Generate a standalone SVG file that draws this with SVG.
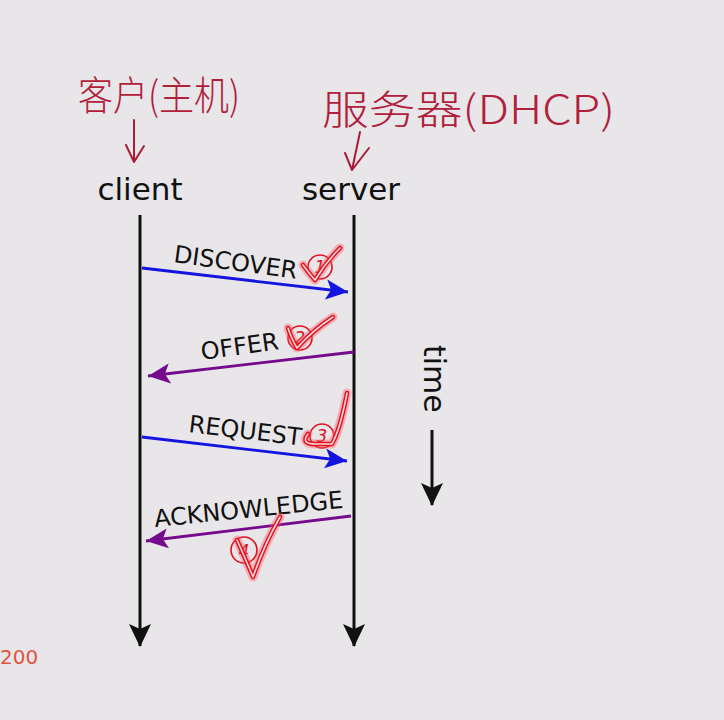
<svg xmlns="http://www.w3.org/2000/svg" width="724" height="720" viewBox="0 0 724 720">
<defs>
<style>
.lbl{font-family:"DejaVu Sans",sans-serif;fill:#111}
.big{font-size:31px}
.msg{font-size:24px}
.hand{font-family:"Noto Sans CJK SC","Liberation Sans",sans-serif;fill:#b0203a;font-size:40px;font-weight:300}
.hs{fill:none;stroke:#a81c36;stroke-width:2;stroke-linecap:round;stroke-linejoin:round}
.life{stroke:#111;stroke-width:3;fill:none}
.glow{fill:none;stroke:#ff5a6a;stroke-opacity:0.4;stroke-width:9;stroke-linecap:round;stroke-linejoin:round}
.chk{fill:none;stroke:#e0101c;stroke-width:4.5;stroke-linecap:round;stroke-linejoin:round}
.chki{fill:none;stroke:#ffd8dc;stroke-width:1.6;stroke-linecap:round;stroke-linejoin:round}
.circ{fill:none;stroke:#e0101c;stroke-width:1.6}
.num{font-family:"DejaVu Sans",sans-serif;font-size:17px;fill:#d8101c;font-style:italic;text-anchor:middle}
</style>
<marker id="hk" markerWidth="24" markerHeight="24" viewBox="0 0 24 24" refX="22" refY="12" orient="auto" markerUnits="userSpaceOnUse"><path d="M0,1 L23,12 L0,23 L5,12 Z" fill="#111"/></marker>
<marker id="hb" markerWidth="24" markerHeight="24" viewBox="0 0 24 24" refX="22" refY="12" orient="auto" markerUnits="userSpaceOnUse"><path d="M0,2 L22,12 L0,22 L5,12 Z" fill="#1414e0"/></marker>
<marker id="hp" markerWidth="24" markerHeight="24" viewBox="0 0 24 24" refX="22" refY="12" orient="auto" markerUnits="userSpaceOnUse"><path d="M0,2 L22,12 L0,22 L5,12 Z" fill="#760a8c"/></marker>
</defs>
<rect width="724" height="720" fill="#e8e6e9"/>

<g id="client">
<text class="lbl big" x="140" y="200" text-anchor="middle">client</text>
</g>
<g id="server">
<text class="lbl big" x="351" y="200" text-anchor="middle">server</text>
</g>

<g id="connectors">
<line class="life" x1="140" y1="215" x2="140" y2="646" marker-end="url(#hk)"/>
<line class="life" x1="354" y1="215" x2="354" y2="646" marker-end="url(#hk)"/>
<line x1="142" y1="268" x2="348" y2="292" stroke="#1414e0" stroke-width="2.8" marker-end="url(#hb)"/>
<line x1="354" y1="352" x2="148" y2="376" stroke="#760a8c" stroke-width="2.8" marker-end="url(#hp)"/>
<line x1="142" y1="437" x2="347" y2="461" stroke="#1414e0" stroke-width="2.8" marker-end="url(#hb)"/>
<line x1="351" y1="516" x2="146" y2="541" stroke="#760a8c" stroke-width="2.8" marker-end="url(#hp)"/>
<line class="life" x1="432" y1="430" x2="432" y2="505" marker-end="url(#hk)"/>
</g>

<g id="labels">
<text class="lbl msg" transform="translate(173,262) rotate(7.8)">DISCOVER</text>
<text class="lbl msg" transform="translate(202,360) rotate(-8)">OFFER</text>
<text class="lbl msg" transform="translate(188,432) rotate(6.8)">REQUEST</text>
<text class="lbl msg" transform="translate(155,527) rotate(-5.8)">ACKNOWLEDGE</text>
<text class="lbl" font-size="30" transform="translate(424,345) rotate(90)">time</text>
</g>

<g id="annotations">
<text class="hand" x="78" y="110" textLength="162" lengthAdjust="spacingAndGlyphs">客户(主机)</text>
<text class="hand" x="322" y="124" textLength="293" lengthAdjust="spacingAndGlyphs">服务器(DHCP)</text>
<path class="hs" d="M134,120 L134,162 M126,145 L134,162 L144,146"/>
<path class="hs" d="M360,132 L352,170 M345,153 L352,170 L369,148"/>
</g>

<g id="checks">
<circle class="circ" cx="320" cy="267" r="12"/>
<text class="num" x="320" y="273">1</text>
<path class="glow" d="M303,265 Q308,272 315,280 Q326,262 340,248"/>
<path class="chk" d="M303,265 Q308,272 315,280 Q326,262 340,248"/>
<path class="chki" d="M303,265 Q308,272 315,280 Q326,262 340,248"/>

<circle class="circ" cx="300" cy="338" r="12"/>
<text class="num" x="300" y="344">2</text>
<path class="glow" d="M288,328 Q292,340 297,348 Q313,330 333,317"/>
<path class="chk" d="M288,328 Q292,340 297,348 Q313,330 333,317"/>
<path class="chki" d="M288,328 Q292,340 297,348 Q313,330 333,317"/>

<circle class="circ" cx="322" cy="436" r="12"/>
<text class="num" x="322" y="442">3</text>
<path class="glow" d="M308,434 Q300,444 316,444 L332,444 Q340,430 347,393"/>
<path class="chk" d="M308,434 Q300,444 316,444 L332,444 Q340,430 347,393"/>
<path class="chki" d="M308,434 Q300,444 316,444 L332,444 Q340,430 347,393"/>

<circle class="circ" cx="244" cy="550" r="13"/>
<text class="num" x="244" y="557">4</text>
<path class="glow" d="M237,540 Q246,560 253,577 Q264,545 280,517"/>
<path class="chk" d="M237,540 Q246,560 253,577 Q264,545 280,517"/>
<path class="chki" d="M237,540 Q246,560 253,577 Q264,545 280,517"/>
</g>

<text x="0" y="664" font-family="DejaVu Sans,sans-serif" font-size="20" fill="#e0553f">200</text>
</svg>
